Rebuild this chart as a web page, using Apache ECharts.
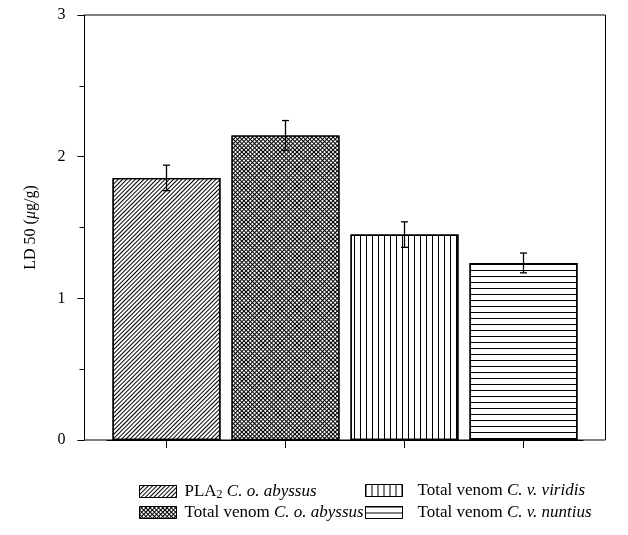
<!DOCTYPE html>
<html><head><meta charset="utf-8">
<script src="https://cdn.jsdelivr.net/npm/echarts@6/dist/echarts.min.js"></script>
<style>html,body{margin:0;padding:0;background:#fff}#c{width:628px;height:535px}</style>
</head><body><div id="c"></div>
<script>
const categories = ['PLA2 C. o. abyssus', 'Total venom C. o. abyssus', 'Total venom C. v. viridis', 'Total venom C. v. nuntius'];
const ld50 = [1.85, 2.15, 1.45, 1.25];
const ld50Err = [0.09, 0.105, 0.09, 0.07];
const yMin = 0, yMax = 3, yStep = 1;

const decals = [
  {symbol: 'rect', symbolSize: 1, dashArrayX: [1, 0], dashArrayY: [1, 2], rotation: -Math.PI / 4, color: '#000'},
  {symbol: 'rect', symbolSize: 1, dashArrayX: [2, 1], dashArrayY: [2, 1], rotation: Math.PI / 4, color: '#fff', backgroundColor: '#000'},
  {symbol: 'rect', symbolSize: 1, dashArrayX: [1, 5], dashArrayY: [1, 0], color: '#000'},
  {symbol: 'rect', symbolSize: 1, dashArrayX: [1, 0], dashArrayY: [1, 5], color: '#000'}
];

const serif = 'Liberation Serif';
const LF = 17;
function legendRich(gap) {
  return {
    g: {fontFamily: serif, fontSize: LF, width: gap, lineHeight: 16},
    n: {fontFamily: serif, fontSize: LF, color: '#000', lineHeight: 16},
    s: {fontFamily: serif, fontSize: 12, color: '#000', padding: [7, 0, 0, 0], lineHeight: 9},
    i: {fontFamily: serif, fontSize: LF, fontStyle: 'italic', color: '#000', lineHeight: 16}
  };
}
function legendFmt(name) {
  const m = name.match(/^(.*?)(C\. .*)$/);
  const head = m[1], tail = m[2];
  if (head.indexOf('PLA2') === 0) {
    return '{g| }{n|PLA}{s|2}{n| }{i|' + tail + '}';
  }
  return '{g| }{n|' + head + '}{i|' + tail + '}';
}

const barSeries = categories.map((c, i) => ({
  type: 'bar',
  name: c,
  xAxisIndex: 1, yAxisIndex: 1,
  stack: 'all',
  barWidth: 108,
  data: categories.map((_, j) => j === i ? ld50[i] : '-'),
  itemStyle: {color: '#fff', borderColor: '#000', borderWidth: 1.3, decal: decals[i]}
}));

const errSeries = {
  type: 'custom',
  xAxisIndex: 1, yAxisIndex: 1,
  z: 10,
  data: ld50.map((v, i) => [i, v - ld50Err[i], v + ld50Err[i]]),
  renderItem: function (params, api) {
    const lo = api.coord([api.value(0), api.value(1)]);
    const hi = api.coord([api.value(0), api.value(2)]);
    const w = 3.5;
    const st = {stroke: '#000', lineWidth: 1.3};
    return {type: 'group', children: [
      {type: 'line', shape: {x1: lo[0], y1: lo[1], x2: hi[0], y2: hi[1]}, style: st},
      {type: 'line', shape: {x1: lo[0] - w, y1: lo[1], x2: lo[0] + w, y2: lo[1]}, style: st},
      {type: 'line', shape: {x1: hi[0] - w, y1: hi[1], x2: hi[0] + w, y2: hi[1]}, style: st}
    ]};
  }
};

const legendSlots = [
  {left: 139, top: 482, gap: 3},
  {left: 139, top: 504, gap: 3},
  {left: 365, top: 482, gap: 10},
  {left: 365, top: 504, gap: 10}
];
const legends = categories.map((c, i) => ({
  data: [c], orient: 'horizontal', padding: 0,
  left: legendSlots[i].left, top: legendSlots[i].top,
  icon: 'rect', itemWidth: 37, itemHeight: 12,
  itemStyle: {borderColor: '#000', borderWidth: 1},
  formatter: legendFmt, textStyle: {rich: legendRich(legendSlots[i].gap)}
}));

const chart = echarts.init(document.getElementById('c'), null, {renderer: 'canvas'});
chart.setOption({
  animation: false,
  backgroundColor: '#fff',
  grid: [
    {left: 84.5, right: 22.5, top: 15, bottom: 95, show: true, borderColor: '#000', borderWidth: 1, backgroundColor: 'transparent'},
    {left: 107, width: 476, top: 15, bottom: 95}
  ],
  xAxis: [
    {gridIndex: 0, type: 'value', min: 0, max: 1, axisLine: {show: false}, axisTick: {show: false}, axisLabel: {show: false}, splitLine: {show: false}},
    {gridIndex: 1, type: 'category', data: categories,
      axisLine: {show: true, lineStyle: {color: '#000', width: 1}},
      axisTick: {show: true, alignWithLabel: true, interval: 0, length: 8, lineStyle: {color: '#000', width: 1}},
      axisLabel: {show: false, interval: 0}}
  ],
  yAxis: [
    {gridIndex: 0, type: 'value', min: yMin, max: yMax, interval: yStep,
      axisLine: {show: true, lineStyle: {color: '#000', width: 1}},
      axisTick: {show: true, length: 7, lineStyle: {color: '#000', width: 1}},
      minorTick: {show: true, splitNumber: 2, length: 5, lineStyle: {color: '#000', width: 1}},
      splitLine: {show: false},
      axisLabel: {fontFamily: serif, fontSize: 16, color: '#000', margin: 19},
      name: '{n|LD 50 (}{i|μ}{n|g/g)}',
      nameLocation: 'middle', nameRotate: 90, nameGap: 46,
      nameTextStyle: {rich: {
        n: {fontFamily: serif, fontSize: 16, color: '#000'},
        i: {fontFamily: serif, fontSize: 16, fontStyle: 'italic', color: '#000'}
      }}
    },
    {gridIndex: 1, type: 'value', min: yMin, max: yMax, interval: yStep, show: false}
  ],
  legend: legends,
  series: barSeries.concat([errSeries])
});
</script>
</body></html>
